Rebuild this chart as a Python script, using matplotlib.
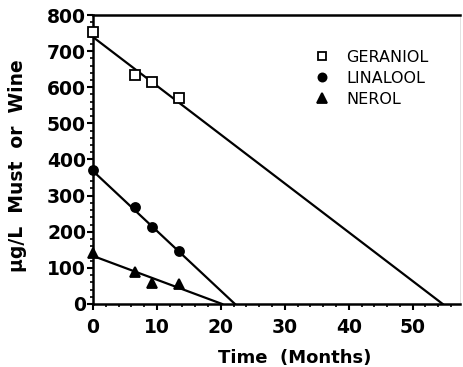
import numpy as np
import matplotlib.pyplot as plt
from matplotlib.ticker import MultipleLocator

# measured points (months, ug/L)
months = [0, 6.5, 9.3, 13.4]
geraniol = [753, 634, 615, 570]
linalool = [371, 268, 213, 146]
nerol = [141, 89, 58, 55]

# fitted lines: (intercept at t=0, time where line reaches 0)
geraniol_fit = (739, 54.7)
linalool_fit = (368, 22.2)
nerol_fit = (133, 20.2)

names = ["GERANIOL", "LINALOOL", "NEROL"]
markers = ["s", "o", "^"]

plt.rcParams["font.family"] = ["DejaVu Sans"]

fig = plt.figure(figsize=(4.64, 3.67), dpi=100)
ax = fig.add_axes([0.2004, 0.1717, 0.7909, 0.7874])

series = [geraniol, linalool, nerol]
fits = [geraniol_fit, linalool_fit, nerol_fit]
for vals, fit, mk, name in zip(series, fits, markers, names):
    b, t0 = fit
    ax.plot([0, t0], [b, 0], color="black", lw=1.6, zorder=2)
    face = "white" if mk == "s" else "black"
    ms = 7.5 if mk == "^" else 6.5
    ax.plot(months, vals, ls="none", marker=mk, ms=ms, mfc=face, mec="black",
            mew=1.3, label=name, zorder=3, clip_on=False)

ax.set_xlim(0, 57.4)
ax.set_ylim(0, 800)
ax.xaxis.set_major_locator(MultipleLocator(10))
ax.xaxis.set_minor_locator(MultipleLocator(2))
ax.yaxis.set_major_locator(MultipleLocator(100))
ax.yaxis.set_minor_locator(MultipleLocator(20))
ax.set_xticks(np.arange(0, 51, 10))

ax.tick_params(which="major", direction="out", length=4, width=1.5,
               labelsize=13.5, pad=1)
ax.tick_params(which="minor", direction="out", length=2.5, width=1.2)
for lab in ax.get_xticklabels() + ax.get_yticklabels():
    lab.set_fontweight("bold")
ax.tick_params(axis="x", pad=6)

for side in ["left", "bottom", "top"]:
    ax.spines[side].set_linewidth(1.8)
ax.spines["right"].set_color("#dddddd")
ax.spines["right"].set_linewidth(0.6)

ax.set_xlabel("Time  (Months)", fontsize=13, fontweight="bold")
ax.xaxis.set_label_coords(0.55, -0.155)
ax.set_ylabel("µg/L  Must  or  Wine", fontsize=13.5, fontweight="bold")
ax.yaxis.set_label_coords(-0.18, 0.48)

leg = ax.legend(loc="upper left", bbox_to_anchor=(0.608, 0.88), frameon=False,
                prop={"size": 11.5},
                handlelength=0.8, handletextpad=1.1, labelspacing=0.38,
                borderpad=0, borderaxespad=0, markerscale=0.9)

fig.savefig("out.png", dpi=100)
